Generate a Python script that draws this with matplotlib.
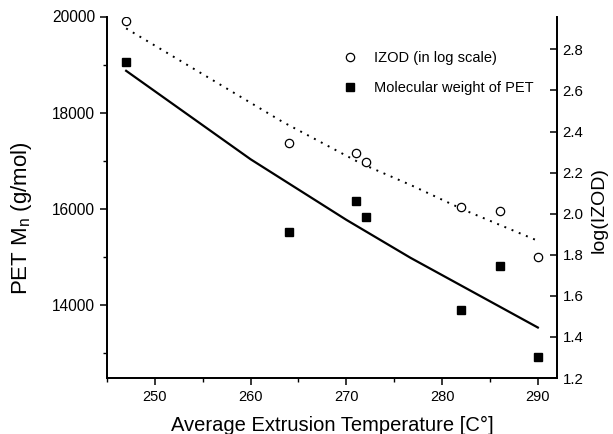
import matplotlib
matplotlib.use("Agg")
import matplotlib.pyplot as plt
from matplotlib.ticker import MultipleLocator, FormatStrFormatter

plt.rcParams['font.family'] = ['Liberation Sans', 'DejaVu Sans']

# Data
temp = [247, 264, 271, 272, 282, 286, 290]
log_izod = [2.94, 2.343, 2.294, 2.25, 2.032, 2.012, 1.788]
mn = [19050, 15520, 16160, 15830, 13890, 14820, 12920]

# fitted curves
fit_mn_x = [247, 260, 270, 276.7, 290]
fit_mn_y = [18870, 17030, 15770, 14980, 13530]
fit_izod_x = [247, 263.3, 271.5, 276.7, 282.3, 290]
fit_izod_y = [2.902, 2.448, 2.245, 2.14, 2.018, 1.868]

fig = plt.figure(figsize=(6.13, 4.34), dpi=100)
ax = fig.add_axes([107/613, 1-378/434, (557-107)/613, (378-16.5)/434])
ax2 = ax.twinx()

ax.plot(fit_mn_x, fit_mn_y, color='black', lw=1.6)
h2, = ax.plot(temp, mn, 's', color='black', ms=5.6, ls='none')
ax2.plot(fit_izod_x, fit_izod_y, color='black', lw=1.4, ls=(0, (1, 3)))
h1, = ax2.plot(temp, log_izod, 'o', mfc='white', mec='black', ms=6, mew=0.9, ls='none')

ax.set_xlim(245, 292)
ax.set_ylim(12480, 20000)
ax2.set_ylim(1.2, 2.96)

ax.xaxis.set_major_locator(MultipleLocator(10))
ax.xaxis.set_minor_locator(MultipleLocator(5))
ax.yaxis.set_major_locator(MultipleLocator(2000))
ax.yaxis.set_minor_locator(MultipleLocator(1000))
ax2.yaxis.set_major_locator(MultipleLocator(0.2))
ax2.yaxis.set_major_formatter(FormatStrFormatter('%.1f'))

for a in (ax, ax2):
    a.spines['top'].set_visible(False)
    for s in a.spines.values():
        s.set_linewidth(1.3)

ax.tick_params(axis='x', which='major', direction='out', length=5, width=1.1, labelsize=10.5)
ax.tick_params(axis='y', which='major', direction='out', length=5, width=1.1, labelsize=11.2)
ax.tick_params(axis='both', which='minor', direction='out', length=3, width=1.0)
ax2.tick_params(axis='y', which='major', direction='in', length=5, width=1.1, labelsize=10.8, pad=4)

ax.set_xlabel('Average Extrusion Temperature [C°]', fontsize=14.5, labelpad=9)
ax.set_ylabel('PET M$_\\mathregular{n}$ (g/mol)', fontsize=16)
ax.yaxis.label.set_va('center')
ax.yaxis.set_label_coords(-0.189, 0.443)
ax2.set_ylabel('log(IZOD)', fontsize=14)
ax2.yaxis.label.set_va('center')
ax2.yaxis.set_label_coords(1.094, 0.465)

ax.legend([h1, h2], ['IZOD (in log scale)', 'Molecular weight of PET'],
          loc='upper left', bbox_to_anchor=(0.495, 0.94), frameon=False,
          fontsize=10.5, handletextpad=1.1, labelspacing=1.1, handlelength=1.0)

fig.savefig('out.png', dpi=100)
